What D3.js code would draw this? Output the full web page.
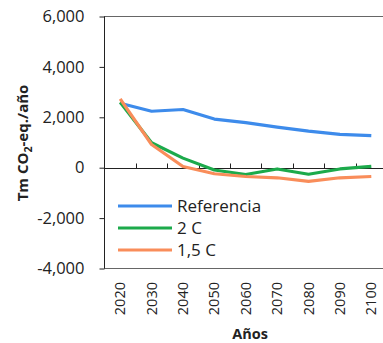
<!DOCTYPE html>
<html>
<head>
<meta charset="utf-8">
<script src="https://cdn.jsdelivr.net/npm/d3@7"></script>
<style>
  body { margin: 0; background: #fff; }
  text { font-family: "Open Sans", "Noto Sans", sans-serif; }
</style>
</head>
<body>
<div id="chart"></div>
<script>
    var years = ["2020", "2030", "2040", "2050", "2060", "2070", "2080", "2090", "2100"];
    var referencia = [2560, 2240, 2310, 1930, 1790, 1610, 1450, 1320, 1270];
    var dosC = [2600, 990, 380, -90, -270, -50, -260, -50, 50];
    var unoCincoC = [2730, 920, 50, -240, -350, -400, -540, -400, -350];
    var yTicks = [-4000, -2000, 0, 2000, 4000, 6000];
    var seriesNames = ["Referencia", "2 C", "1,5 C"];
    var colors = ["#3d8beb", "#1caa4b", "#f98d5a"];

    var width = 383, height = 343;
    var plotLeft = 104.5, plotTop = 16.5, plotBottom = 268.5, plotRight = 387;

    var svg = d3.select("#chart").append("svg")
        .attr("width", width)
        .attr("height", height);

    var x = d3.scaleBand().domain(years).range([plotLeft, plotRight]);
    var y = d3.scaleLinear().domain([-4000, 6000]).range([plotBottom, plotTop]);

    // frame
    svg.append("rect")
        .attr("x", plotLeft).attr("y", plotTop)
        .attr("width", plotRight - plotLeft).attr("height", plotBottom - plotTop)
        .attr("fill", "none").attr("stroke", "#666").attr("stroke-width", 1);
    svg.append("line")
        .attr("x1", plotLeft).attr("x2", plotLeft).attr("y1", plotTop).attr("y2", plotBottom)
        .attr("stroke", "#222");

    // y axis (plain hyphen for negatives, like the original)
    var fmt = d3.format(",");
    var yAxis = svg.append("g")
        .attr("transform", "translate(" + plotLeft + ",0)")
        .call(d3.axisLeft(y).tickValues(yTicks).tickSize(5).tickPadding(15)
            .tickFormat(function (d) { return fmt(d).replace("\u2212", "-"); }));
    yAxis.select(".domain").remove();
    yAxis.selectAll("line").attr("stroke", "#222");
    yAxis.selectAll("text").attr("font-size", "16.5px").attr("fill", "#222");

    // zero line with ticks between categories
    var zeroY = Math.round(y(0)) + 0.5;
    svg.append("line")
        .attr("x1", plotLeft).attr("x2", plotRight).attr("y1", zeroY).attr("y2", zeroY)
        .attr("stroke", "#222");
    svg.selectAll(".xtick").data(years.slice(1))
        .enter().append("line")
        .attr("x1", function (d) { return Math.round(x(d)) + 0.5; })
        .attr("x2", function (d) { return Math.round(x(d)) + 0.5; })
        .attr("y1", zeroY).attr("y2", zeroY - 5)
        .attr("stroke", "#222");

    // x labels rotated
    svg.selectAll(".xlabel").data(years)
        .enter().append("text")
        .attr("transform", function (d) {
            return "translate(" + (x(d) + x.bandwidth() / 2 + 5) + ",282) rotate(-90)";
        })
        .attr("text-anchor", "end")
        .attr("font-size", "14.5px")
        .attr("fill", "#222")
        .text(function (d) { return d; });

    // lines
    var line = d3.line()
        .x(function (d, i) { return x(years[i]) + x.bandwidth() / 2; })
        .y(function (d) { return y(d); });

    [referencia, dosC, unoCincoC].forEach(function (s, i) {
        svg.append("path")
            .datum(s)
            .attr("d", line)
            .attr("fill", "none")
            .attr("stroke", colors[i])
            .attr("stroke-width", 3.2)
            .attr("stroke-linejoin", "round");
    });

    // legend
    seriesNames.forEach(function (name, i) {
        var ly = 206 + i * 22;
        svg.append("line")
            .attr("x1", 118).attr("x2", 172).attr("y1", ly).attr("y2", ly)
            .attr("stroke", colors[i]).attr("stroke-width", 3.2);
        svg.append("text")
            .attr("x", 177).attr("y", ly + 6)
            .attr("font-size", "17px").attr("fill", "#222")
            .text(name);
    });

    // axis titles
    var yt = svg.append("text")
        .attr("transform", "translate(28,143) rotate(-90)")
        .attr("text-anchor", "middle")
        .attr("font-size", "15px").attr("font-weight", "bold").attr("fill", "#222");
    yt.append("tspan").text("Tm CO");
    yt.append("tspan").attr("font-size", "10.5px").attr("dy", 4).text("2");
    yt.append("tspan").attr("dy", -4).text("-eq./año");

    svg.append("text")
        .attr("x", 250).attr("y", 339)
        .attr("text-anchor", "middle")
        .attr("font-size", "14.5px").attr("font-weight", "bold").attr("fill", "#222")
        .text("Años");
</script>
</body>
</html>
